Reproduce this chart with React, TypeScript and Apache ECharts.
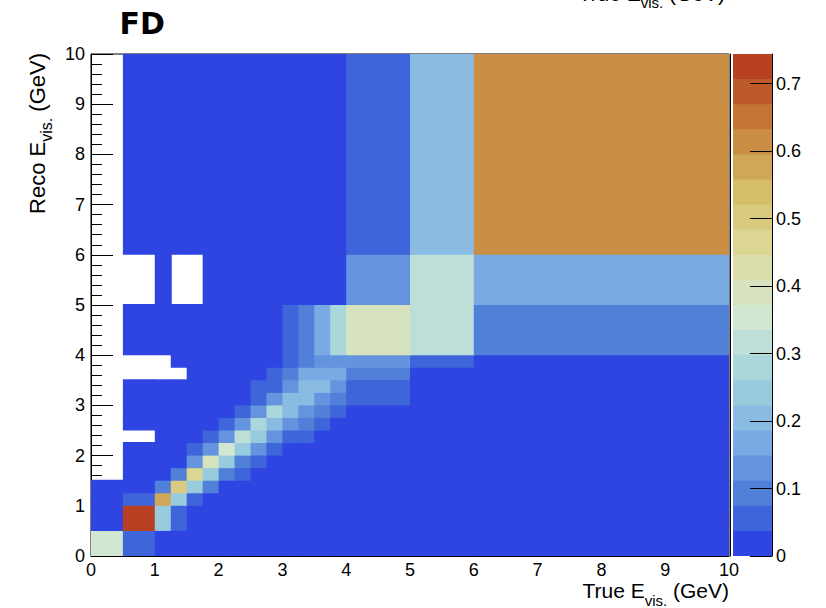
import React, { useEffect, useRef } from 'react';
import * as echarts from 'echarts';

// Variable bin edges (GeV), same for true (x) and reco (y)
const binEdges = [0, 0.5, 1, 1.25, 1.5, 1.75, 2, 2.25, 2.5, 2.75, 3, 3.25, 3.5, 3.75, 4, 5, 6, 10];
const axisTicks = [0, 1, 2, 3, 4, 5, 6, 7, 8, 9, 10];
const zMax = 0.744;
const nLevels = 20;
const zTickMax = 0.7;

// Cell values per reco bin (row), one entry per true bin; null = empty bin
const reco_0_05 = [0.35, 0.055, 0.02, 0.02, 0.02, 0.02, 0.02, 0.02, 0.02, 0.02, 0.02, 0.02, 0.02, 0.02, 0.02, 0.02, 0.02];
const reco_05_1 = [0.02, 0.735, 0.24, 0.055, 0.02, 0.02, 0.02, 0.02, 0.02, 0.02, 0.02, 0.02, 0.02, 0.02, 0.02, 0.02, 0.02];
const reco_1_125 = [0.02, 0.055, 0.575, 0.24, 0.055, 0.02, 0.02, 0.02, 0.02, 0.02, 0.02, 0.02, 0.02, 0.02, 0.02, 0.02, 0.02];
const reco_125_15 = [0.02, 0.02, 0.09, 0.5, 0.24, 0.09, 0.02, 0.02, 0.02, 0.02, 0.02, 0.02, 0.02, 0.02, 0.02, 0.02, 0.02];
const reco_15_175 = [null, 0.02, 0.02, 0.09, 0.465, 0.24, 0.09, 0.055, 0.02, 0.02, 0.02, 0.02, 0.02, 0.02, 0.02, 0.02, 0.02];
const reco_175_2 = [null, 0.02, 0.02, 0.02, 0.13, 0.39, 0.24, 0.09, 0.055, 0.02, 0.02, 0.02, 0.02, 0.02, 0.02, 0.02, 0.02];
const reco_2_225 = [null, 0.02, 0.02, 0.02, 0.055, 0.13, 0.35, 0.24, 0.13, 0.055, 0.02, 0.02, 0.02, 0.02, 0.02, 0.02, 0.02];
const reco_225_25 = [null, null, 0.02, 0.02, 0.02, 0.055, 0.13, 0.315, 0.24, 0.13, 0.055, 0.055, 0.02, 0.02, 0.02, 0.02, 0.02];
const reco_25_275 = [null, 0.02, 0.02, 0.02, 0.02, 0.02, 0.055, 0.13, 0.28, 0.2, 0.13, 0.09, 0.055, 0.02, 0.02, 0.02, 0.02];
const reco_275_3 = [null, 0.02, 0.02, 0.02, 0.02, 0.02, 0.02, 0.055, 0.13, 0.28, 0.2, 0.13, 0.09, 0.055, 0.02, 0.02, 0.02];
const reco_3_325 = [null, 0.02, 0.02, 0.02, 0.02, 0.02, 0.02, 0.02, 0.055, 0.13, 0.2, 0.2, 0.13, 0.09, 0.055, 0.02, 0.02];
const reco_325_35 = [null, 0.02, 0.02, 0.02, 0.02, 0.02, 0.02, 0.02, 0.055, 0.055, 0.13, 0.2, 0.2, 0.13, 0.055, 0.02, 0.02];
const reco_35_375 = [null, null, null, null, 0.02, 0.02, 0.02, 0.02, 0.02, 0.055, 0.09, 0.165, 0.165, 0.165, 0.09, 0.02, 0.02];
const reco_375_4 = [null, null, null, 0.02, 0.02, 0.02, 0.02, 0.02, 0.02, 0.02, 0.055, 0.09, 0.13, 0.13, 0.13, 0.055, 0.02];
const reco_4_5 = [null, 0.02, 0.02, 0.02, 0.02, 0.02, 0.02, 0.02, 0.02, 0.02, 0.055, 0.09, 0.165, 0.28, 0.39, 0.315, 0.09];
const reco_5_6 = [null, null, 0.02, null, null, 0.02, 0.02, 0.02, 0.02, 0.02, 0.02, 0.02, 0.02, 0.02, 0.13, 0.315, 0.165];
const reco_6_10 = [null, 0.02, 0.02, 0.02, 0.02, 0.02, 0.02, 0.02, 0.02, 0.02, 0.02, 0.02, 0.02, 0.02, 0.055, 0.2, 0.615];

const recoRows = [
  reco_0_05, reco_05_1, reco_1_125, reco_125_15, reco_15_175, reco_175_2, reco_2_225, reco_225_25,
  reco_25_275, reco_275_3, reco_3_325, reco_325_35, reco_35_375, reco_375_4, reco_4_5, reco_5_6, reco_6_10,
];

// ROOT kLightTemperature palette stops
const palStops = [0, 0.125, 0.25, 0.375, 0.5, 0.625, 0.75, 0.875, 1];
const palR = [31, 71, 123, 160, 210, 222, 214, 199, 183];
const palG = [40, 117, 171, 211, 231, 220, 190, 132, 65];
const palB = [234, 214, 228, 222, 210, 160, 105, 60, 34];

function paletteColor(f: number): string {
  let k = 0;
  while (k < palStops.length - 2 && f > palStops[k + 1]) k++;
  const t = (f - palStops[k]) / (palStops[k + 1] - palStops[k]);
  const c = (a: number[]) => Math.round(a[k] + (a[k + 1] - a[k]) * t);
  return `rgb(${c(palR)},${c(palG)},${c(palB)})`;
}

const FONT = '"Liberation Sans", Arial, Helvetica, sans-serif';
const CENTRAL = 0.3465; // central-baseline offset of Liberation Sans (em)

let measureCtx: CanvasRenderingContext2D | null = null;
function textWidth(text: string, size: number): number {
  if (!measureCtx) measureCtx = document.createElement('canvas').getContext('2d');
  if (!measureCtx) return text.length * size * 0.55;
  measureCtx.font = `${size}px ${FONT}`;
  return measureCtx.measureText(text).width;
}

// Horizontal title "main1 + subscript + main2", right-aligned at endX
function hTitle(main1: string, sub: string, main2: string, endX: number, baseM: number, baseS: number, fsM: number, fsS: number) {
  const w1 = textWidth(main1, fsM);
  const w2 = textWidth(sub, fsS);
  const w3 = textWidth(main2, fsM);
  const x0 = endX - (w1 + w2 + w3);
  const mk = (t: string, x: number, y: number, fs: number) => ({
    type: 'text', x, y, silent: true,
    style: { text: t, fontSize: fs, fontFamily: FONT, fill: '#000', align: 'left', verticalAlign: 'middle' },
  });
  return [
    mk(main1, x0, baseM - CENTRAL * fsM, fsM),
    mk(sub, x0 + w1, baseS - CENTRAL * fsS, fsS),
    mk(main2, x0 + w1 + w2, baseM - CENTRAL * fsM, fsM),
  ];
}

// Vertical (bottom-to-top) title, whose end is at topY
function vTitle(main1: string, sub: string, main2: string, topY: number, baseM: number, baseS: number, fsM: number, fsS: number) {
  const w1 = textWidth(main1, fsM);
  const w2 = textWidth(sub, fsS);
  const w3 = textWidth(main2, fsM);
  const mk = (t: string, x: number, y: number, fs: number) => ({
    type: 'text', x, y, rotation: Math.PI / 2, silent: true,
    style: { text: t, fontSize: fs, fontFamily: FONT, fill: '#000', align: 'left', verticalAlign: 'middle' },
  });
  return [
    mk(main1, baseM - CENTRAL * fsM, topY + w3 + w2 + w1, fsM),
    mk(sub, baseS - CENTRAL * fsS, topY + w3 + w2, fsS),
    mk(main2, baseM - CENTRAL * fsM, topY + w3, fsM),
  ];
}

export default function App() {
  const ref = useRef<HTMLDivElement>(null);

  useEffect(() => {
    if (!ref.current) return;
    const chart = echarts.init(ref.current, undefined, { renderer: 'svg' });

    const w = zMax / nLevels;
    const pieces = [] as any[];
    for (let i = 0; i < nLevels; i++) {
      const idx = Math.floor(((i + 0.99) * 255) / nLevels);
      pieces.push({ gte: i * w, lt: i === nLevels - 1 ? zMax + 1 : (i + 1) * w, color: paletteColor(idx / 254) });
    }

    const cells: number[][] = [];
    recoRows.forEach((row, j) => {
      row.forEach((v, i) => {
        if (v !== null && v !== undefined) {
          cells.push([binEdges[i], binEdges[i + 1], binEdges[j], binEdges[j + 1], v as number]);
        }
      });
    });

    const bands: number[][] = [];
    for (let i = 0; i < nLevels; i++) {
      bands.push([0, 1, i * w, (i + 1) * w, (i + 0.5) * w]);
    }

    const renderRect = (params: any, api: any) => {
      const p0 = api.coord([api.value(0), api.value(2)]);
      const p1 = api.coord([api.value(1), api.value(3)]);
      return {
        type: 'rect',
        shape: {
          x: p0[0],
          y: p1[1] - 1,
          width: p1[0] - p0[0] + 1,
          height: p0[1] - p1[1] + 1,
        },
        style: { fill: api.visual('color') },
      };
    };

    const gridTop = 54;
    const gridH = 502;
    const tickGridH = (gridH * zTickMax) / zMax;

    const labelStyle = { fontSize: 18, color: '#000', fontFamily: FONT };

    chart.setOption({
      animation: false,
      backgroundColor: '#fff',
      grid: [
        { left: 91, top: gridTop, width: 638, height: gridH, show: true, borderColor: '#000', borderWidth: 1, backgroundColor: 'transparent' },
        { left: 733, top: gridTop, width: 39, height: gridH },
        { left: 733, top: gridTop + gridH - tickGridH, width: 39, height: tickGridH },
      ],
      xAxis: [
        {
          gridIndex: 0, type: 'value', min: axisTicks[0], max: axisTicks[axisTicks.length - 1], interval: 1, z: 5,
          axisLine: { show: true, onZero: false, lineStyle: { color: '#000', width: 1 } },
          axisTick: { show: false },
          minorTick: { show: false },
          splitLine: { show: false },
          axisLabel: { ...labelStyle, margin: 5 },
        },
        { gridIndex: 1, type: 'value', min: 0, max: 1, show: false },
        { gridIndex: 2, type: 'value', min: 0, max: 1, show: false },
      ],
      yAxis: [
        {
          gridIndex: 0, type: 'value', min: axisTicks[0], max: axisTicks[axisTicks.length - 1], interval: 1,
          axisLine: { show: true, onZero: false, lineStyle: { color: '#000', width: 1 } },
          axisTick: { show: true, inside: true, length: 22, lineStyle: { color: '#000' } },
          minorTick: { show: true, splitNumber: 5, length: 11, lineStyle: { color: '#000' } },
          splitLine: { show: false },
          axisLabel: { ...labelStyle, margin: 6 },
        },
        {
          gridIndex: 1, type: 'value', min: 0, max: zMax, position: 'right', z: 5,
          axisLine: { show: true, onZero: false, lineStyle: { color: '#000', width: 1 } },
          axisTick: { show: false }, axisLabel: { show: false }, splitLine: { show: false },
        },
        {
          gridIndex: 2, type: 'value', min: 0, max: zTickMax, interval: 0.1, position: 'right', z: 6,
          axisLine: { show: false, onZero: false },
          axisTick: { show: true, inside: true, length: 22, lineStyle: { color: '#000' } },
          splitLine: { show: false },
          axisLabel: {
            ...labelStyle, margin: 4,
            formatter: (v: number) => String(Math.round(v * 10) / 10),
          },
        },
        {
          gridIndex: 0, type: 'value', min: axisTicks[0], max: axisTicks[axisTicks.length - 1], position: 'right', offset: 1, z: 5,
          axisLine: { show: true, onZero: false, lineStyle: { color: '#000', width: 1 } },
          axisTick: { show: false }, axisLabel: { show: false }, splitLine: { show: false },
        },
      ],
      visualMap: {
        type: 'piecewise', show: false, dimension: 4, seriesIndex: [0, 1], pieces,
      },
      series: [
        {
          type: 'custom', xAxisIndex: 0, yAxisIndex: 0, data: cells, clip: true,
          encode: { x: [0, 1], y: [2, 3] }, renderItem: renderRect,
        },
        {
          type: 'custom', xAxisIndex: 1, yAxisIndex: 1, data: bands, clip: true,
          encode: { x: [0, 1], y: [2, 3] }, renderItem: renderRect,
        },
      ],
      graphic: [
        {
          type: 'text', x: 119.5, y: 23,
          style: { text: 'FD', fontSize: 30, fontWeight: 'bold', fontFamily: '"DejaVu Sans", sans-serif', fill: '#000', verticalAlign: 'middle' },
        },
        ...hTitle('True E', 'vis.', ' (GeV)', 729, 598, 606, 21, 15),
        ...hTitle('True E', 'vis.', ' (GeV)', 725, 1, 8, 21, 15),
        ...vTitle('Reco E', 'vis.', ' (GeV)', 53, 45, 52, 22, 16),
      ],
    });

    return () => chart.dispose();
  }, []);

  return <div ref={ref} style={{ position: 'fixed', left: 0, top: 0, width: 826, height: 608, background: '#fff' }} />;
}
